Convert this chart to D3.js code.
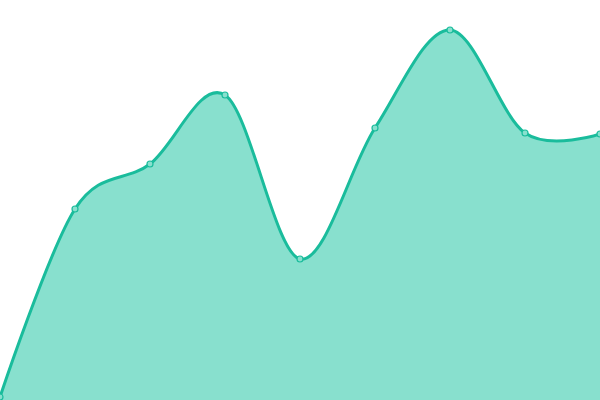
<!DOCTYPE html>
<html><head><meta charset="utf-8">
<script src="https://cdn.jsdelivr.net/npm/d3@7"></script>
<style>html,body{margin:0;padding:0;background:#fff;}svg{display:block;}</style>
</head><body>
<svg id="c" width="600" height="400"></svg>
<script>
const categories = [0, 1, 2, 3, 4, 5, 6, 7, 8];
const values = [3, 191, 236, 305, 141, 272, 370, 267, 266];

const W = 600, H = 400;
const svg = d3.select("#c");
const x = d3.scaleLinear().domain([0, 8]).range([0, W]);
const y = d3.scaleLinear().domain([0, 400]).range([H, 0]);
const data = categories.map((c, i) => ({c, v: values[i]}));

const area = d3.area().x(d => x(d.c)).y0(y(0)).y1(d => y(d.v)).curve(d3.curveCardinal);
const line = d3.line().x(d => x(d.c)).y(d => y(d.v)).curve(d3.curveCardinal);

svg.append("path").datum(data).attr("d", area).attr("fill", "#88e0ce");
svg.append("path").datum(data).attr("d", line).attr("fill", "none")
  .attr("stroke", "#1abc9c").attr("stroke-width", 3);
svg.selectAll("circle").data(data).join("circle")
  .attr("cx", d => x(d.c)).attr("cy", d => y(d.v)).attr("r", 3)
  .attr("fill", "#88e0ce").attr("stroke", "#1abc9c").attr("stroke-width", 1.2);
</script>
</body></html>
